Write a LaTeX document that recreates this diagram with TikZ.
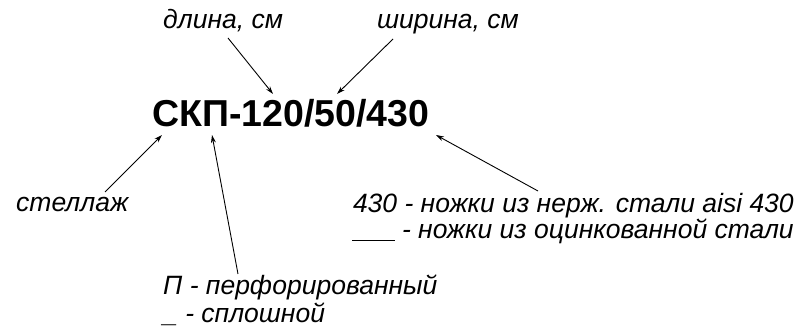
\documentclass[tikz,border=0pt]{standalone}
\usepackage{fontspec}
\setmainfont{Liberation Sans}
\usetikzlibrary{arrows.meta}
\begin{document}
\begin{tikzpicture}[x=1pt,y=1pt,
  lbl/.style={inner sep=0pt,anchor=base west,font=\itshape\fontsize{26.5}{26}\selectfont},
  ttl/.style={inner sep=0pt,anchor=base west,font=\bfseries\fontsize{37.5}{38}\selectfont},
  arr/.style={-{Stealth[length=8pt,width=5pt]},line width=0.9pt}]
\useasboundingbox (0,0) rectangle (803,329);
\node[ttl] (title) at (152,202) {СКП-120/50/430};
\node[lbl] (len) at (163,300) {длина, см};
\node[lbl] (wid) at (377,300) {ширина, см};
\node[lbl] (rack) at (16,117) {стеллаж};
\node[lbl] (perf) at (163,34) {П - перфорированный};
\node[lbl] (solid) at (163,6) {\_ - сплошной};
\node[lbl,anchor=base east] (legs1) at (794,116) {430 - ножки из нерж. стали aisi 430};
\node[lbl,anchor=base east] (legs2) at (794,90) {\underline{\hspace{1.6em}} - ножки из оцинкованной стали};
\coordinate (lenS) at (228,291);
\coordinate (lenE) at (273,235);
\coordinate (widS) at (393,290);
\coordinate (widE) at (337,235);
\coordinate (rackS) at (105,137);
\coordinate (rackE) at (162,194);
\coordinate (perfS) at (238,55);
\coordinate (perfE) at (212,194);
\coordinate (legsS) at (538,138);
\coordinate (legsE) at (436,194);
\draw[arr] (lenS) -- (lenE);
\draw[arr] (widS) -- (widE);
\draw[arr] (rackS) -- (rackE);
\draw[arr] (perfS) -- (perfE);
\draw[arr] (legsS) -- (legsE);
\end{tikzpicture}
\end{document}
